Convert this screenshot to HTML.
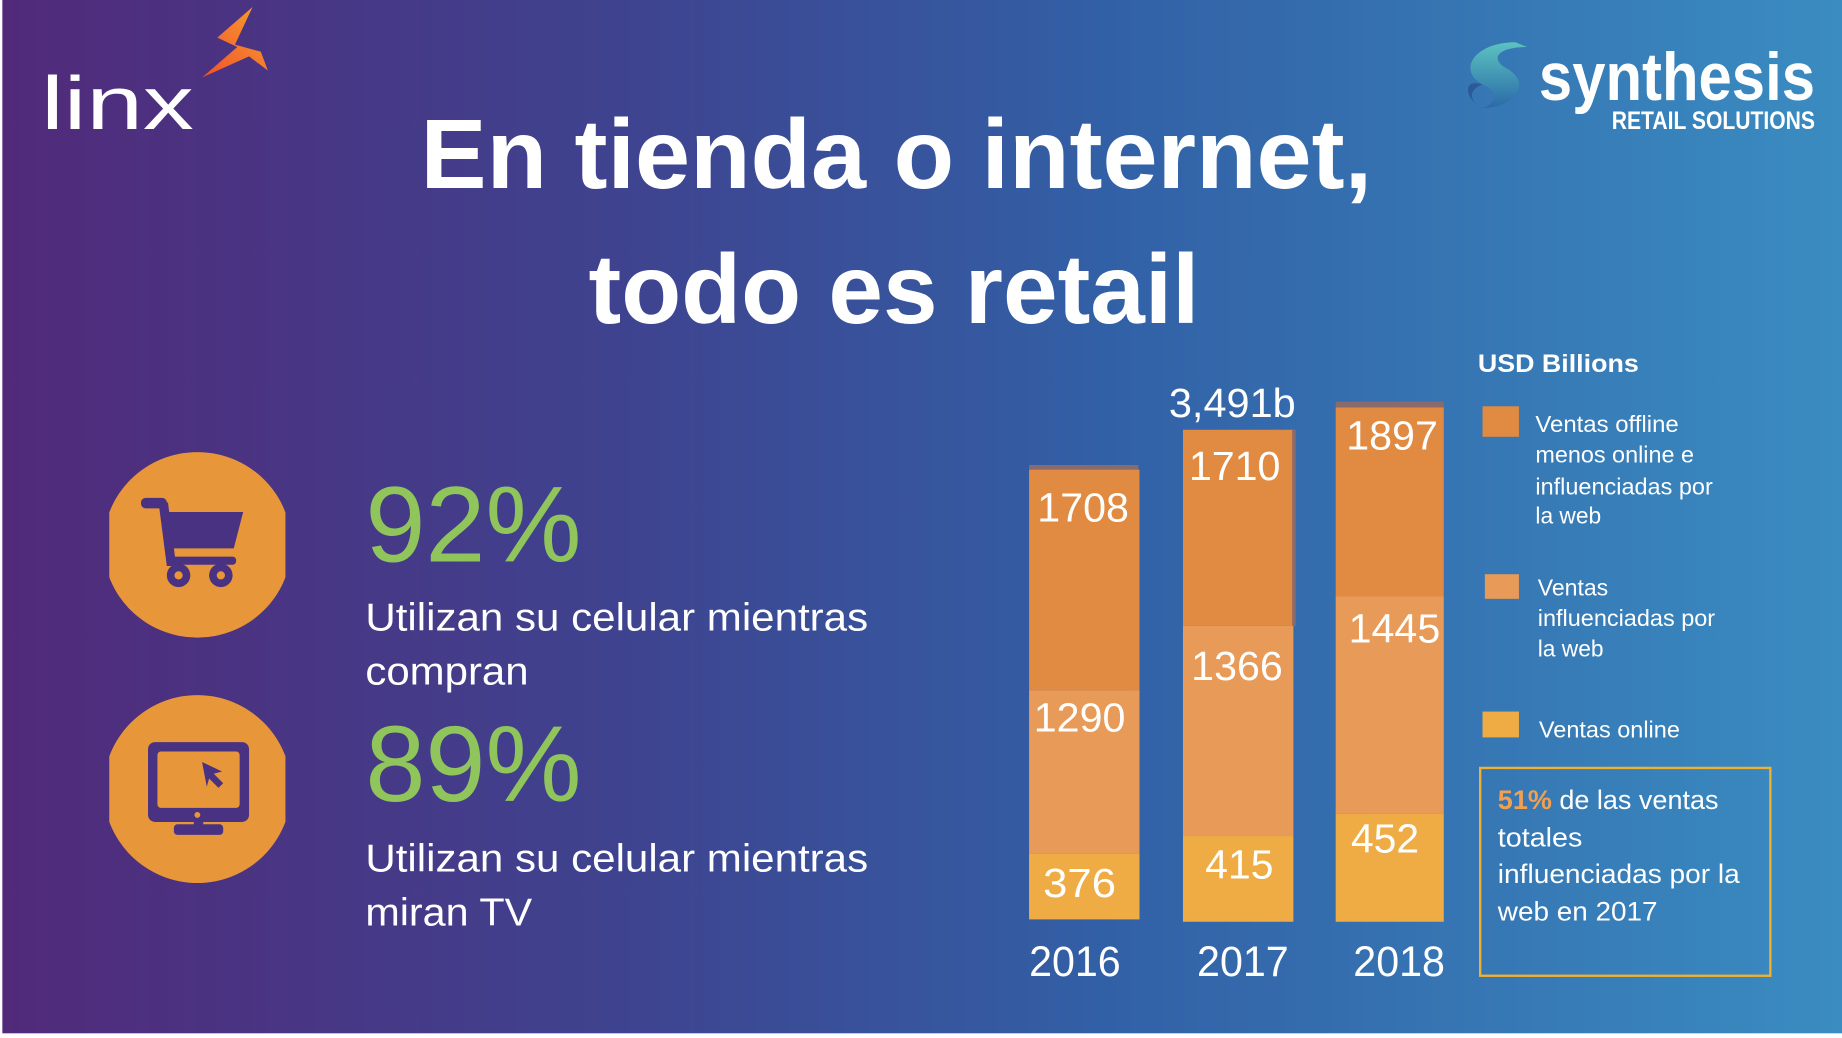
<!DOCTYPE html>
<html><head><meta charset="utf-8"><style>
html,body{margin:0;padding:0;background:#fff;}
svg{display:block;}
text{font-family:"Liberation Sans",sans-serif;}
</style></head><body>
<svg width="1842" height="1038" viewBox="0 0 1568 884" preserveAspectRatio="none" xmlns="http://www.w3.org/2000/svg">
<defs>
<linearGradient id="bg" x1="0" y1="0" x2="1" y2="0">
<stop offset="0" stop-color="#512a7a"/>
<stop offset="0.35" stop-color="#3e4490"/>
<stop offset="0.6" stop-color="#3260a6"/>
<stop offset="1" stop-color="#3a8cc1"/>
</linearGradient>
<linearGradient id="fl" x1="0" y1="1" x2="1" y2="0">
<stop offset="0" stop-color="#f0502a"/><stop offset="1" stop-color="#f7a030"/>
</linearGradient>
<linearGradient id="sw" x1="0" y1="0" x2="0" y2="1">
<stop offset="0" stop-color="#5cc3c0"/><stop offset="1" stop-color="#2a6aa8"/>
</linearGradient>
<clipPath id="c1"><rect x="93" y="380" width="150" height="380"/></clipPath>
</defs>
<rect x="0" y="0" width="1568" height="884" fill="#fff"/>
<rect x="2" y="0" width="1566" height="880" fill="url(#bg)"/>

<!-- linx logo -->
<text x="35" y="110" font-size="64" fill="#fff" textLength="130" lengthAdjust="spacingAndGlyphs">linx</text>
<path d="M215 6 L185 32 L202 40 L172 66 L212 48 L228 60 L222 44 L200 38 Z" fill="url(#fl)"/>

<!-- synthesis logo -->
<path d="M1290 36 C1255 36 1240 60 1262 72 C1280 80 1270 90 1262 92 C1290 92 1305 70 1282 58 C1268 50 1275 40 1300 40 Z" fill="url(#sw)"/>
<path d="M1262 72 C1245 66 1246 84 1262 92 C1250 86 1250 76 1262 72Z" fill="#2a5a98"/>
<text x="1310" y="85" font-size="58" font-weight="bold" fill="#fff" textLength="235" lengthAdjust="spacingAndGlyphs">synthesis</text>
<text x="1372" y="110" font-size="21" font-weight="bold" fill="#fff" textLength="173" lengthAdjust="spacingAndGlyphs">RETAIL SOLUTIONS</text>

<!-- title -->
<text x="358" y="160" font-size="84" font-weight="bold" fill="#fff" textLength="810" lengthAdjust="spacingAndGlyphs">En tienda o internet,</text>
<text x="501" y="275" font-size="84" font-weight="bold" fill="#fff" textLength="520" lengthAdjust="spacingAndGlyphs">todo es retail</text>

<!-- icons -->
<g clip-path="url(#c1)">
<ellipse cx="168" cy="464" rx="80" ry="79" fill="#e8963a"/>
<ellipse cx="168" cy="672" rx="80" ry="80" fill="#e8963a"/>
</g>
<g fill="#4a3282">
<rect x="120" y="424" width="22" height="9" rx="4"/>
<path d="M135 428 L143 428 L150 482 L142 482 Z"/>
<path d="M142 436 L207 436 L199 467 L146 467 Z"/>
<rect x="143" y="474" width="58" height="7" rx="3"/>
<circle cx="152" cy="490" r="10"/><circle cx="188" cy="490" r="10"/>
</g>
<circle cx="152" cy="490" r="3.5" fill="#e8963a"/><circle cx="188" cy="490" r="3.5" fill="#e8963a"/>
<g fill="#4a3282">
<rect x="126" y="632" width="86" height="68" rx="6"/>
<rect x="165" y="693" width="8" height="12"/>
<rect x="148" y="702" width="42" height="9" rx="3"/>
</g>
<rect x="134" y="640" width="70" height="48" rx="3" fill="#e8963a"/>
<circle cx="168" cy="694" r="2.5" fill="#e8963a"/>
<path d="M172 649 L189 657 L182 659 L190 667 L186 671 L178 663 L176 670 Z" fill="#4a3282"/>

<!-- stats -->
<text x="311" y="478" font-size="92" fill="#8fc55a" textLength="184" lengthAdjust="spacingAndGlyphs">92%</text>
<text x="311" y="537" font-size="33" fill="#fff" textLength="428" lengthAdjust="spacingAndGlyphs">Utilizan su celular mientras</text>
<text x="311" y="583" font-size="33" fill="#fff" textLength="139" lengthAdjust="spacingAndGlyphs">compran</text>
<text x="311" y="682" font-size="92" fill="#8fc55a" textLength="184" lengthAdjust="spacingAndGlyphs">89%</text>
<text x="311" y="742" font-size="33" fill="#fff" textLength="428" lengthAdjust="spacingAndGlyphs">Utilizan su celular mientras</text>
<text x="311" y="788" font-size="33" fill="#fff" textLength="142" lengthAdjust="spacingAndGlyphs">miran TV</text>

<!-- bars -->
<rect x="876" y="396" width="93" height="5" fill="#8a6a6a"/>
<rect x="876" y="400" width="94" height="188" fill="#e08a42"/>
<rect x="876" y="588" width="94" height="139" fill="#e89a58"/>
<rect x="876" y="727" width="94" height="56" fill="#efac45"/>

<rect x="1007" y="366" width="95" height="167" fill="#e08a42"/>
<rect x="1100" y="366" width="3" height="167" fill="#8a6a6a"/>
<rect x="1007" y="533" width="94" height="179" fill="#e89a58"/>
<rect x="1007" y="712" width="94" height="73" fill="#efac45"/>

<rect x="1137" y="342" width="92" height="5" fill="#8a6a6a"/>
<rect x="1137" y="347" width="92" height="161" fill="#e08a42"/>
<rect x="1137" y="508" width="92" height="185" fill="#e89a58"/>
<rect x="1137" y="693" width="92" height="92" fill="#efac45"/>

<g font-size="35" fill="#fff">
<text x="883" y="444" textLength="78" lengthAdjust="spacingAndGlyphs">1708</text>
<text x="880" y="623" textLength="78" lengthAdjust="spacingAndGlyphs">1290</text>
<text x="888" y="764" textLength="62" lengthAdjust="spacingAndGlyphs">376</text>
<text x="1012" y="409" textLength="78" lengthAdjust="spacingAndGlyphs">1710</text>
<text x="1014" y="579" textLength="78" lengthAdjust="spacingAndGlyphs">1366</text>
<text x="1026" y="748" textLength="58" lengthAdjust="spacingAndGlyphs">415</text>
<text x="1146" y="383" textLength="78" lengthAdjust="spacingAndGlyphs">1897</text>
<text x="1148" y="547" textLength="78" lengthAdjust="spacingAndGlyphs">1445</text>
<text x="1150" y="726" textLength="58" lengthAdjust="spacingAndGlyphs">452</text>
<text x="995" y="355" textLength="108" lengthAdjust="spacingAndGlyphs">3,491b</text>
</g>
<g font-size="36" fill="#fff">
<text x="876" y="831" textLength="78" lengthAdjust="spacingAndGlyphs">2016</text>
<text x="1019" y="831" textLength="78" lengthAdjust="spacingAndGlyphs">2017</text>
<text x="1152" y="831" textLength="78" lengthAdjust="spacingAndGlyphs">2018</text>
</g>

<!-- legend -->
<text x="1258" y="317" font-size="21" font-weight="bold" fill="#fff" textLength="137" lengthAdjust="spacingAndGlyphs">USD  Billions</text>
<rect x="1262" y="346" width="31" height="26" fill="#e08a42"/>
<rect x="1264" y="489" width="29" height="21" fill="#e89a58"/>
<rect x="1262" y="606" width="31" height="22" fill="#efac45"/>
<g font-size="20" fill="#fff">
<text x="1307" y="368" textLength="122" lengthAdjust="spacingAndGlyphs">Ventas offline</text>
<text x="1307" y="394" textLength="135" lengthAdjust="spacingAndGlyphs">menos online e</text>
<text x="1307" y="421" textLength="151" lengthAdjust="spacingAndGlyphs">influenciadas por</text>
<text x="1307" y="446" textLength="56" lengthAdjust="spacingAndGlyphs">la web</text>
<text x="1309" y="507" textLength="60" lengthAdjust="spacingAndGlyphs">Ventas</text>
<text x="1309" y="533" textLength="151" lengthAdjust="spacingAndGlyphs">influenciadas por</text>
<text x="1309" y="559" textLength="56" lengthAdjust="spacingAndGlyphs">la web</text>
<text x="1310" y="628" textLength="120" lengthAdjust="spacingAndGlyphs">Ventas online</text>
</g>
<rect x="1260" y="654" width="247" height="177" fill="none" stroke="#f0b030" stroke-width="2"/>
<g font-size="23" fill="#fff">
<text x="1275" y="689"><tspan fill="#f0a050" font-weight="bold">51%</tspan> de las ventas</text>
<text x="1275" y="721" textLength="72" lengthAdjust="spacingAndGlyphs">totales</text>
<text x="1275" y="752" textLength="206" lengthAdjust="spacingAndGlyphs">influenciadas por la</text>
<text x="1275" y="784" textLength="136" lengthAdjust="spacingAndGlyphs">web en 2017</text>
</g>
</svg>
</body></html>
